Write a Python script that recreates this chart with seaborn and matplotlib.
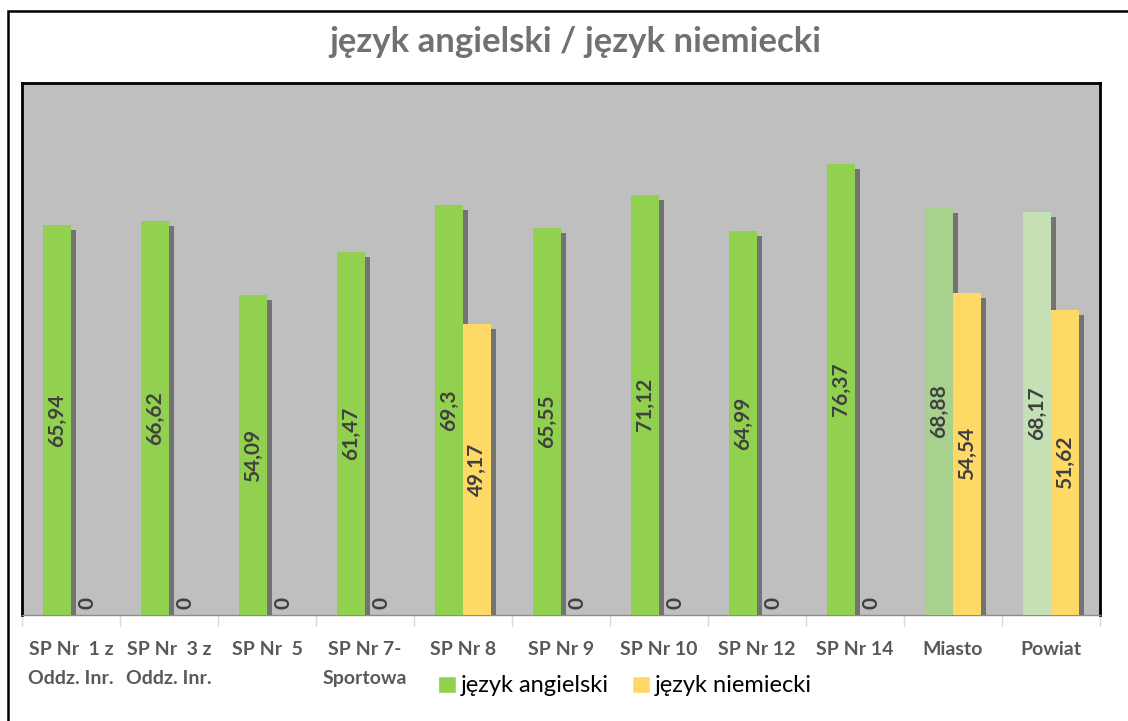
import matplotlib
matplotlib.use("Agg")
import matplotlib.pyplot as plt
import matplotlib.patheffects as pe
from matplotlib.patches import Rectangle
import pandas as pd
import seaborn as sns

# dane
szkoly = ["SP Nr  1 z\nOddz. Inr.", "SP Nr  3 z\nOddz. Inr.", "SP Nr  5", "SP Nr 7-\nSportowa",
          "SP Nr 8", "SP Nr 9", "SP Nr 10", "SP Nr 12", "SP Nr 14", "Miasto", "Powiat"]
angielski = [65.94, 66.62, 54.09, 61.47, 69.3, 65.55, 71.12, 64.99, 76.37, 68.88, 68.17]
niemiecki = [0, 0, 0, 0, 49.17, 0, 0, 0, 0, 54.54, 51.62]
serie = ["język angielski", "język niemiecki"]

df = pd.DataFrame({
    "Szkoła": szkoly * 2,
    "Seria": [serie[0]] * len(szkoly) + [serie[1]] * len(szkoly),
    "Wynik": angielski + niemiecki,
})

sns.set_style("white")
plt.rcParams["font.family"] = ["Lato", "DejaVu Sans"]

fig = plt.figure(figsize=(11.28, 7.21), dpi=100)
ax = fig.add_axes([22 / 1128, 1 - 615 / 721, (1100 - 22) / 1128, (615 - 83) / 721])

sns.barplot(data=df, x="Szkoła", y="Wynik", hue="Seria", hue_order=serie,
            palette=["#92D050", "#FFD966"], width=0.57, saturation=1, ax=ax, zorder=3)

# jasniejsze zielone dla Miasto / Powiat
zielone = ax.patches[:len(szkoly)]
zielone[9].set_facecolor("#A9D18E")
zielone[10].set_facecolor("#C5E0B4")

cien = [pe.SimplePatchShadow(offset=(3.6, -3.6), shadow_rgbFace="#737373", alpha=1), pe.Normal()]
for p in ax.patches[:2 * len(szkoly)]:
    p.set_path_effects(cien)
    p.set_edgecolor("none")

# etykiety wartosci
for cont in ax.containers:
    for bar in cont:
        h = bar.get_height()
        x = bar.get_x() + bar.get_width() / 2
        tekst = f"{h:g}".replace(".", ",")
        if h > 0:
            ax.text(x, h / 2, tekst, rotation=90, ha="center", va="center",
                    fontsize=15, fontweight="bold", color="#404040", zorder=5)
        else:
            ax.text(x + 0.03, 1.0, tekst, rotation=90, ha="center", va="bottom",
                    fontsize=15, fontweight="bold", color="#404040", zorder=5)

ax.set_facecolor("#BFBFBF")
ax.set_ylim(0, 90)
ax.set_xlim(-0.5, len(szkoly) - 0.5)
ax.set_yticks([])
ax.set_xlabel("")
ax.set_ylabel("")
ax.tick_params(axis="x", length=0, pad=18.5, labelsize=14, labelcolor="#595959")
for t in ax.get_xticklabels():
    t.set_fontweight("bold")
    t.set_linespacing(1.85)
for s in ["left", "top", "right"]:
    ax.spines[s].set_color("black")
    ax.spines[s].set_linewidth(2)
ax.spines["bottom"].set_color("#8C8C8C")
ax.spines["bottom"].set_linewidth(1)

# kreski podzialu kategorii
for i in range(len(szkoly) + 1):
    ax.plot([i - 0.5, i - 0.5], [0, -1.8], color="#D9D9D9", lw=1, clip_on=False)

ax.legend(loc="center", bbox_to_anchor=(625 / 1128, 1 - 686 / 721), bbox_transform=fig.transFigure,
          ncol=2, frameon=False, fontsize=17, handlelength=0.75, handleheight=0.75,
          handletextpad=0.2, columnspacing=1.0, labelcolor="#000000")

fig.text(575 / 1128, 1 - 42 / 721, "język angielski / język niemiecki", ha="center", va="center",
         fontsize=25, fontweight="bold", color="#757070")

fig.patches.append(Rectangle((8 / 1128, -0.1), 1.2, 1 - 11 / 721 + 0.1, transform=fig.transFigure,
                             fill=False, edgecolor="black", lw=1.8, figure=fig))

fig.savefig("out.png", dpi=100)
